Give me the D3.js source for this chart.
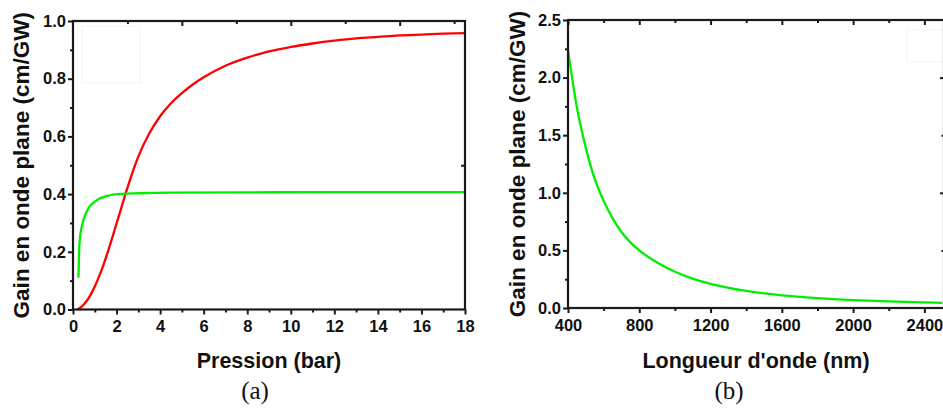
<!DOCTYPE html>
<html><head><meta charset="utf-8">
<script src="https://cdn.jsdelivr.net/npm/d3@7"></script>
<style>
body{margin:0;background:#fff;}
svg{display:block;}
.tick text{font-family:"Liberation Sans",Arial,sans-serif;font-weight:bold;font-size:16.5px;fill:#111;}
</style></head>
<body>
<svg id="c" width="943" height="410"></svg>
<script>
// ---- Data: panel (a) ----
const pressureRed = [0.2,0.4,0.6,0.8,1.0,1.2,1.4,1.6,1.8,2.0,2.2,2.4,2.6,2.8,3.0,3.5,4.0,4.5,5,5.5,6,7,8,9,10,11,12,13,14,15,16,17,18];
const gainRed     = [0,0.01,0.027,0.05,0.08,0.115,0.155,0.2,0.248,0.298,0.348,0.398,0.445,0.49,0.53,0.61,0.67,0.715,0.75,0.78,0.805,0.845,0.873,0.895,0.91,0.922,0.932,0.94,0.945,0.95,0.953,0.956,0.958];
const pressureGreen = [0.25,0.28,0.32,0.37,0.5,0.7,1.1,1.7,2.2,3,4.5,8,12,18];
const gainGreen     = [0.11,0.2,0.25,0.275,0.315,0.35,0.379,0.396,0.401,0.403,0.405,0.406,0.407,0.407];
const xTicksA = [0,2,4,6,8,10,12,14,16,18];
const yTicksA = [0,0.2,0.4,0.6,0.8,1.0];
// ---- Data: panel (b) ----
const wavelength = [400,450,500,550,600,650,700,750,800,900,1000,1100,1200,1400,1600,1800,2000,2200,2400,2500];
const gainB      = [2.24,1.74,1.39,1.12,0.93,0.78,0.66,0.57,0.50,0.395,0.315,0.255,0.21,0.148,0.11,0.086,0.069,0.057,0.048,0.044];
const xTicksB = [400,800,1200,1600,2000,2400];
const yTicksB = [0,0.5,1.0,1.5,2.0,2.5];

const svg = d3.select("#c");
const AX = "#1a1a1a";

function panel(cfg){
  const g = svg.append("g");
  const x = d3.scaleLinear().domain(cfg.xdom).range([cfg.x0,cfg.x1]);
  const y = d3.scaleLinear().domain(cfg.ydom).range([cfg.y0,cfg.y1]);
  // faint legend remnant
  if(cfg.ghost) g.append("rect").attr("x",cfg.ghost[0]).attr("y",cfg.ghost[1]).attr("width",cfg.ghost[2]).attr("height",cfg.ghost[3])
    .attr("fill","none").attr("stroke","#f4f4f4").attr("stroke-width",1);
  // curves
  cfg.series.forEach(s=>{
    const pts = s.x.map((v,i)=>[v,s.y[i]]);
    g.append("path").datum(pts)
      .attr("d",d3.line().x(d=>x(d[0])).y(d=>y(d[1])).curve(d3.curveMonotoneX))
      .attr("fill","none").attr("stroke",s.color).attr("stroke-width",2.3);
  });
  const fmt = cfg.yfmt;
  g.append("g").attr("transform",`translate(0,${cfg.y0})`)
    .call(d3.axisBottom(x).tickValues(cfg.xticks).tickSize(5).tickPadding(6).tickFormat(d3.format("d")));
  g.append("g").attr("transform",`translate(0,${cfg.y0})`)
    .call(d3.axisBottom(x).tickValues(cfg.xminor).tickSize(3).tickFormat(""));
  g.append("g").attr("transform",`translate(${cfg.x0},0)`)
    .call(d3.axisLeft(y).tickValues(cfg.yticks).tickSize(5).tickPadding(2).tickFormat(fmt));
  g.append("g").attr("transform",`translate(${cfg.x0},0)`)
    .call(d3.axisLeft(y).tickValues(cfg.yminor).tickSize(3).tickFormat(""));
  g.append("g").attr("transform",`translate(0,${cfg.y1})`)
    .call(d3.axisTop(x).tickValues(cfg.topMajor).tickSize(-5).tickFormat(""));
  g.append("g").attr("transform",`translate(0,${cfg.y1})`)
    .call(d3.axisTop(x).tickValues(cfg.topMinor).tickSize(-3).tickFormat(""));
  g.append("g").attr("transform",`translate(${cfg.x1},0)`)
    .call(d3.axisRight(y).tickValues(cfg.rightMajor).tickSize(-4).tickFormat(""));
  g.append("g").attr("transform",`translate(${cfg.x1},0)`)
    .call(d3.axisRight(y).tickValues(cfg.rightMinor).tickSize(-2.5).tickFormat(""));
  g.selectAll(".domain").remove();
  g.selectAll(".tick line").attr("stroke",AX).attr("stroke-width",2);
  g.append("rect").attr("x",cfg.x0).attr("y",cfg.y1).attr("width",cfg.x1-cfg.x0).attr("height",cfg.y0-cfg.y1)
    .attr("fill","none").attr("stroke",AX).attr("stroke-width",2.2);
  g.append("text").attr("x",(cfg.x0+cfg.x1)/2).attr("y",368).attr("text-anchor","middle")
    .style("font-family",'"Liberation Sans",Arial,sans-serif').style("font-weight","bold").style("font-size","21.5px").attr("fill","#111")
    .text(cfg.xtitle);
  g.append("text").attr("transform",`translate(${cfg.ytx},${(cfg.y0+cfg.y1)/2}) rotate(-90)`).attr("text-anchor","middle")
    .style("font-family",'"Liberation Sans",Arial,sans-serif').style("font-weight","bold").style("font-size","22.5px").attr("fill","#111")
    .text("Gain en onde plane (cm/GW)");
  g.append("text").attr("x",cfg.capx).attr("y",399).attr("text-anchor","middle")
    .style("font-family",'"Liberation Serif","Times New Roman",serif').style("font-size","25px").attr("fill","#111")
    .text(cfg.cap);
}

panel({
  x0:73,x1:465,y0:309.5,y1:21,xdom:[0,18],ydom:[0,1.0],
  xticks:xTicksA, xminor:d3.range(1,18,2),
  yticks:yTicksA, yminor:[0.1,0.3,0.5,0.7,0.9], yfmt:d3.format(".1f"),
  topMajor:[5,10,15], topMinor:[2.5,7.5,12.5,17.5],
  rightMajor:[0.5], rightMinor:[],
  series:[{x:pressureRed,y:gainRed,color:"#ff0000"},{x:pressureGreen,y:gainGreen,color:"#00ee00"}],
  xtitle:"Pression (bar)", ytx:29, cap:"(a)", capx:255,
  ghost:[82,26,58,57]
});
panel({
  x0:568,x1:944,y0:308,y1:20,xdom:[400,2510],ydom:[0,2.5],
  xticks:xTicksB, xminor:[600,1000,1400,1800,2200],
  yticks:yTicksB, yminor:[0.25,0.75,1.25,1.75,2.25], yfmt:d3.format(".1f"),
  topMajor:xTicksB, topMinor:[600,1000,1400,1800,2200],
  rightMajor:[1.0,2.0], rightMinor:[0.5,1.5],
  series:[{x:wavelength,y:gainB,color:"#00ee00"}],
  xtitle:"Longueur d'onde (nm)", ytx:525, cap:"(b)", capx:729,
  ghost:[907,30,40,32]
});
</script>
</body></html>
